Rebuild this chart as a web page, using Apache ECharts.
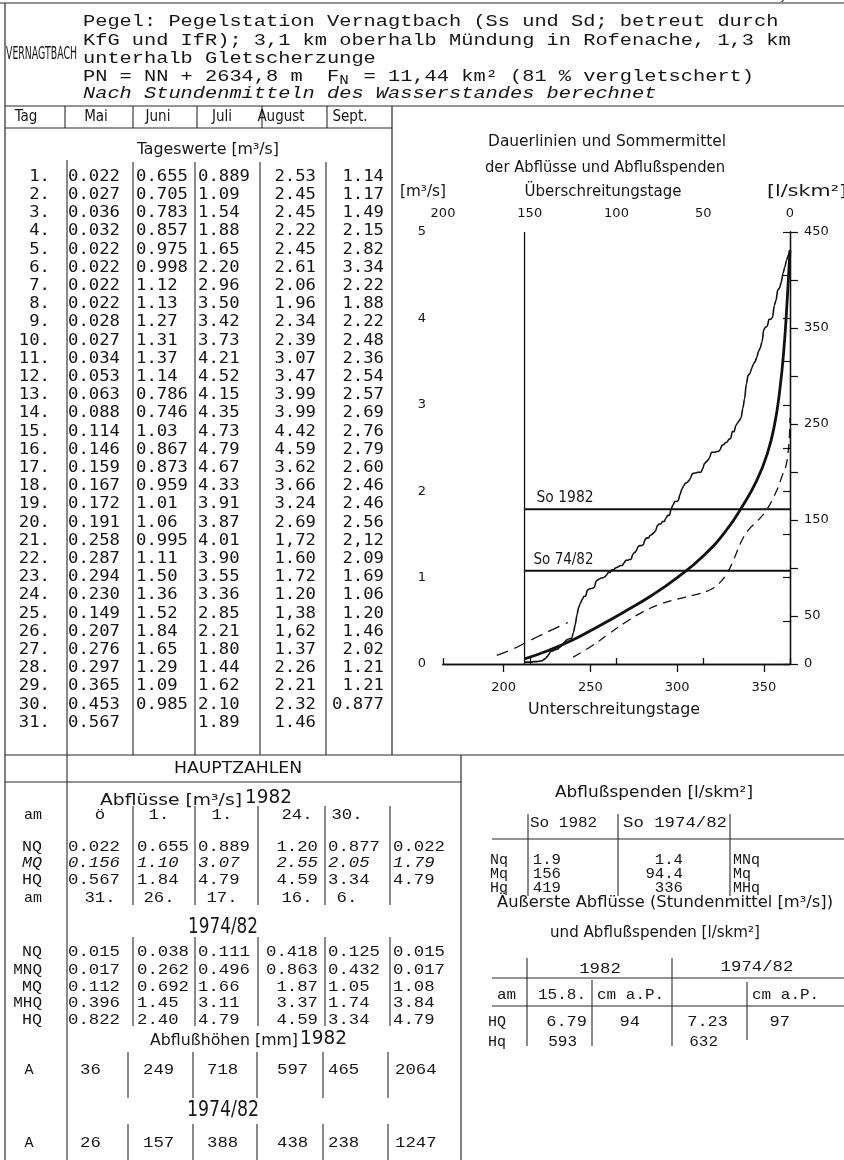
<!DOCTYPE html>
<html><head><meta charset="utf-8">
<script src="https://cdn.jsdelivr.net/npm/echarts@6/dist/echarts.min.js"></script>
<style>html,body{margin:0;padding:0;background:#fff}#c{width:844px;height:1160px}</style>
</head><body><div id="c"></div>
<script>
// ---------------- DATA ----------------
const dayLabels = ['1.','2.','3.','4.','5.','6.','7.','8.','9.','10.','11.','12.','13.','14.','15.','16.','17.','18.','19.','20.','21.','22.','23.','24.','25.','26.','27.','28.','29.','30.','31.'];
const months = ['Tag','Mai','Juni','Juli','August','Sept.'];
const mai = ['0.022','0.027','0.036','0.032','0.022','0.022','0.022','0.022','0.028','0.027','0.034','0.053','0.063','0.088','0.114','0.146','0.159','0.167','0.172','0.191','0.258','0.287','0.294','0.230','0.149','0.207','0.276','0.297','0.365','0.453','0.567'];
const juni = ['0.655','0.705','0.783','0.857','0.975','0.998','1.12','1.13','1.27','1.31','1.37','1.14','0.786','0.746','1.03','0.867','0.873','0.959','1.01','1.06','0.995','1.11','1.50','1.36','1.52','1.84','1.65','1.29','1.09','0.985'];
const juli = ['0.889','1.09','1.54','1.88','1.65','2.20','2.96','3.50','3.42','3.73','4.21','4.52','4.15','4.35','4.73','4.79','4.67','4.33','3.91','3.87','4.01','3.90','3.55','3.36','2.85','2.21','1.80','1.44','1.62','2.10','1.89'];
const august = ['2.53','2.45','2.45','2.22','2.45','2.61','2.06','1.96','2.34','2.39','3.07','3.47','3.99','3.99','4.42','4.59','3.62','3.66','3.24','2.69','1,72','1.60','1.72','1.20','1,38','1,62','1.37','2.26','2.21','2.32','1.46'];
const sept = ['1.14','1.17','1.49','2.15','2.82','3.34','2.22','1.88','2.22','2.48','2.36','2.54','2.57','2.69','2.76','2.79','2.60','2.46','2.46','2.56','2,12','2.09','1.69','1.06','1.20','1.46','2.02','1.21','1.21','0.877'];

// Hauptzahlen
const hzAmNQ1982 = ['ö','1.','1.','24.','30.'];
const hzNQ1982 = ['0.022','0.655','0.889','1.20','0.877','0.022'];
const hzMQ1982 = ['0.156','1.10','3.07','2.55','2.05','1.79'];
const hzHQ1982 = ['0.567','1.84','4.79','4.59','3.34','4.79'];
const hzAmHQ1982 = ['31.','26.','17.','16.','6.'];
const hzNQ7482 = ['0.015','0.038','0.111','0.418','0.125','0.015'];
const hzMNQ7482 = ['0.017','0.262','0.496','0.863','0.432','0.017'];
const hzMQ7482 = ['0.112','0.692','1.66','1.87','1.05','1.08'];
const hzMHQ7482 = ['0.396','1.45','3.11','3.37','1.74','3.84'];
const hzHQ7482 = ['0.822','2.40','4.79','4.59','3.34','4.79'];
const hzA1982 = ['36','249','718','597','465','2064'];
const hzA7482 = ['26','157','388','438','238','1247'];

// Abflussspenden
const spRows = ['Nq','Mq','Hq'];
const spRowsR = ['MNq','Mq','MHq'];
const sp1982 = ['1.9','156','419'];
const sp7482 = ['1.4','94.4','336'];
// Äusserste Abflüsse
const exAm = ['15.8.','cm a.P.','','cm a.P.'];
const exHQ = ['6.79','94','7.23','97'];
const exHq = ['593','','632',''];

// Dauerlinien (Unterschreitungstage, m3/s)
const dauerMittel = [[212,0.06],[225,0.15],[240,0.28],[255,0.44],[270,0.61],[285,0.79],[300,1.00],[315,1.25],[328,1.54],[338,1.84],[346,2.13],[352,2.44],[356,2.76],[359,3.15],[361.5,3.65],[363.5,4.25],[365,4.79]];
const dauerUnten = [[240,0.08],[250,0.20],[260,0.34],[270,0.48],[280,0.60],[290,0.69],[300,0.75],[310,0.80],[318,0.85],[324,0.93],[329,1.06],[333,1.23],[337,1.42],[341,1.55],[346,1.65],[351,1.77],[356,1.95],[360,2.15],[363.5,2.38],[365,2.85]];
const dauerWinter = [[196,0.10],[205,0.17],[212,0.24],[224,0.36],[237,0.48]];
const unterTicks = [200,250,300,350];

// ---------------- HELPERS ----------------
const cv = document.createElement('canvas').getContext('2d');
const INK = '#161616';
const SANS = '"Liberation Sans Narrow", "DejaVu Sans Condensed", "Liberation Sans"';
function T(s, x, y, o) {
  o = o || {};
  const size = o.size || 15;
  const fam = o.fam || SANS;
  const font = (o.it ? 'italic ' : '') + size + 'px ' + fam;
  let sx = 1;
  if ((o.w || o.cw) && s.length) {
    cv.font = font;
    const m = cv.measureText(s).width;
    sx = (o.w || o.cw * s.length) / m;
  }
  const a = o.a || 'left';
  return {type:'text', x:x, y:y, scaleX:sx, silent:true, z:10,
    style:{text:s, font:font, fill:INK, align:a, verticalAlign:'middle', textAlign:a, textVerticalAlign:'middle'}};
}
const TW = '"Liberation Mono"';   // typewriter
const SM = '"DejaVu Sans Mono"';  // table digits
function L(x1,y1,x2,y2,w) {
  return {type:'line', silent:true, z:5, shape:{x1:x1,y1:y1,x2:x2,y2:y2}, style:{stroke:'#2a2a2a', lineWidth:w||1.1}};
}

// ---------------- GRAPHIC (tables) ----------------
const G = [];
G.push(L(0,3,844,3,1.2));
G.push(L(5,3,5,1160,1.2));
G.push(L(5,106,844,106,1.2));
G.push(L(5,128,392,128,1.1));
G.push(L(392,106,392,755,1.2));
G.push(L(5,755,844,755,1.2));
G.push(L(5,782,461,782,1.1));
G.push(L(461,755,461,1160,1.2));
G.push(L(67,160,67,1160,1.1));
G.push(T('Abflußjahr 1982', 842, -5, {size:14, a:'right'}));

// header
G.push(T('VERNAGTBACH', 6, 55, {w:71, size:17}));
const hx = 83, hcw = 12.2;
G.push(T('Pegel: Pegelstation Vernagtbach (Ss und Sd; betreut durch', hx, 22, {fam:TW, size:16, cw:hcw}));
G.push(T('KfG und IfR); 3,1 km oberhalb Mündung in Rofenache, 1,3 km', hx, 41, {fam:TW, size:16, cw:hcw}));
G.push(T('unterhalb Gletscherzunge', hx, 59, {fam:TW, size:16, cw:hcw}));
G.push(T('PN = NN + 2634,8 m  F', hx, 77, {fam:TW, size:16, cw:hcw}));
G.push(T('N', hx + 21*hcw, 81, {fam:TW, size:12, cw:9.5}));
G.push(T(' = 11,44 km² (81 % vergletschert)', hx + 22*hcw, 77, {fam:TW, size:16, cw:hcw}));
G.push(T('Nach Stundenmitteln des Wasserstandes berechnet', hx, 94, {fam:TW, size:16, cw:hcw, it:true}));

// month header row
const hdrSep = [65,133,197,262,327];
hdrSep.forEach(x => G.push(L(x,106,x,128)));
const hdrX = [26,96,158,222,281,350];
months.forEach((m,i) => G.push(T(m, hdrX[i], 117, {a:'center', size:15})));
G.push(T('Tageswerte [m³/s]', 208, 150, {a:'center', size:16, w:142}));

// daily table
const bodySep = [133,195,260,326];
bodySep.forEach(x => G.push(L(x,162,x,755)));
const cols = [mai, juni, juli, august, sept];
const colX = [68,136,198,316,384], colA = ['left','left','left','right','right'];
const rowY0 = 177, rowH = 18.2;
dayLabels.forEach((d,i) => G.push(T(d, 50, rowY0 + i*rowH, {fam:SM, size:15, cw:10.4, a:'right'})));
cols.forEach((c,j) => c.forEach((v,i) => G.push(T(v, colX[j], rowY0 + i*rowH, {fam:SM, size:15, cw:10.4, a:colA[j]}))));

// HAUPTZAHLEN
G.push(T('HAUPTZAHLEN', 238, 769, {a:'center', size:16, w:128}));
G.push(T('Abflüsse [m³/s]', 100, 801, {size:15, w:142}));
G.push(T('1982', 245, 798, {size:20, w:47}));
const hzX = [68,137,198,318,328,393], hzA = ['left','left','left','right','left','left'];
const amX = [100,159,222,297,347];
const hzCw = 10.4;
function hzRow(label, arr, y, it) {
  G.push(T(label, 42, y, {fam:TW, size:15, a:'right', it:it, cw:label.length>2?9.6:10}));
  arr.forEach((v,i) => G.push(T(v, hzX[i], y, {fam:TW, size:15, cw:hzCw, a:hzA[i], it:it})));
}
function amRow(arr, y) {
  G.push(T('am', 42, y, {fam:TW, size:15, a:'right', cw:9}));
  arr.forEach((v,i) => G.push(T(v, amX[i], y, {fam:TW, size:15, cw:hzCw, a:'center'})));
}
amRow(hzAmNQ1982, 815);
hzRow('NQ', hzNQ1982, 847);
hzRow('MQ', hzMQ1982, 863, true);
hzRow('HQ', hzHQ1982, 880);
amRow(hzAmHQ1982, 898);
[133,195,258,325,390].forEach(x => G.push(L(x,806,x,905)));
G.push(T('1974/82', 223, 928, {a:'center', size:21, w:70}));
hzRow('NQ', hzNQ7482, 952);
hzRow('MNQ', hzMNQ7482, 970);
hzRow('MQ', hzMQ7482, 987);
hzRow('MHQ', hzMHQ7482, 1003);
hzRow('HQ', hzHQ7482, 1020);
[133,195,258,325,390].forEach(x => G.push(L(x,937,x,1026)));
G.push(T('Abflußhöhen [mm]', 150, 1041, {size:15, w:148}));
G.push(T('1982', 300, 1039, {size:20, w:47}));
const aX = [80,143,207,277,328,395];
G.push(T('A', 29, 1070, {fam:TW, size:15, a:'center'}));
hzA1982.forEach((v,i) => G.push(T(v, aX[i], 1070, {fam:TW, size:15, cw:hzCw})));
[128,193,257,323,388].forEach(x => G.push(L(x,1052,x,1098)));
G.push(T('1974/82', 223, 1111, {a:'center', size:21, w:72}));
G.push(T('A', 29, 1143, {fam:TW, size:15, a:'center'}));
hzA7482.forEach((v,i) => G.push(T(v, aX[i], 1143, {fam:TW, size:15, cw:hzCw})));
[128,193,257,323,388].forEach(x => G.push(L(x,1124,x,1160)));

// Abflussspenden table
G.push(T('Abflußspenden [l/skm²]', 654, 793, {a:'center', size:15, w:198}));
G.push(T('So 1982', 530, 823, {fam:TW, size:15, cw:9.6}));
G.push(T('So 1974/82', 623, 823, {fam:TW, size:15, cw:10.4}));
G.push(L(492,839,844,839));
[528,618,730].forEach(x => G.push(L(x,814,x,896)));
const spY = [860,874,888];
spRows.forEach((r,i) => {
  G.push(T(r, 490, spY[i], {fam:TW, size:14, cw:9}));
  G.push(T(sp1982[i], 561, spY[i], {fam:TW, size:14, cw:9.4, a:'right'}));
  G.push(T(sp7482[i], 683, spY[i], {fam:TW, size:14, cw:9.4, a:'right'}));
  G.push(T(spRowsR[i], 733, spY[i], {fam:TW, size:14, cw:9}));
});
G.push(T('Äußerste Abflüsse (Stundenmittel [m³/s])', 665, 903, {a:'center', size:15, w:336}));
G.push(T('und Abflußspenden [l/skm²]', 655, 933, {a:'center', size:15, w:210}));
G.push(T('1982', 600, 969, {fam:TW, size:15, cw:10.4, a:'center'}));
G.push(T('1974/82', 757, 967, {fam:TW, size:15, cw:10.4, a:'center'}));
G.push(L(492,978,844,978));
G.push(L(492,1006,844,1006));
G.push(L(527,958,527,1046));
G.push(L(672,958,672,1046));
G.push(L(592,980,592,1046));
G.push(L(747,982,747,1040));
G.push(T('am', 497, 995, {fam:TW, size:15, cw:9.6}));
const exX = [538,597,686,752];
exAm.forEach((v,i) => G.push(T(v, exX[i], 995, {fam:TW, size:15, cw:9.6})));
G.push(T('HQ', 488, 1022, {fam:TW, size:15, cw:9}));
G.push(T('Hq', 488, 1042, {fam:TW, size:15, cw:9}));
const exHX = [587,640,728,790];
exHQ.forEach((v,i) => G.push(T(v, exHX[i], 1022, {fam:TW, size:15, cw:10.2, a:'right'})));
const exqX = [577,0,718,0];
exHq.forEach((v,i) => { if (v) G.push(T(v, exqX[i], 1042, {fam:TW, size:15, cw:9.6, a:'right'})); });

// chart titles
G.push(T('Dauerlinien und Sommermittel', 607, 142, {a:'center', size:15, w:238}));
G.push(T('der Abflüsse und Abflußspenden', 605, 168, {a:'center', size:15, w:240}));
G.push(T('[m³/s]', 423, 192, {a:'center', size:15, w:46}));
G.push(T('Überschreitungstage', 603, 192, {a:'center', size:15, w:157}));
G.push(T('[l/skm²]', 767, 192, {size:15, w:80}));
G.push(T('Unterschreitungstage', 614, 710, {a:'center', size:15, w:172}));

// ---------------- CHART ----------------
const toNum = s => parseFloat(s.replace(',', '.'));
const sorted1982 = [].concat(mai, juni, juli, august, sept).map(toNum).sort((a,b) => a-b);
const nDays = sorted1982.length;           // 153 summer days
const startDay = 365 - nDays;              // 212
const dauer1982 = sorted1982.map((v,i) => [startDay + i*nDays/(nDays-1), v]);
const so1982 = toNum(hzMQ1982[5]);
const so7482 = toNum(hzMQ7482[5]);

const axisFont = {fontFamily:'DejaVu Sans', fontSize:13, color:INK};
const axLine = {show:true, lineStyle:{color:'#111', width:1.3}};
const option = {
  animation:false,
  backgroundColor:'#fff',
  grid:{left:443, top:232, width:347, height:432, containLabel:false},
  xAxis:[
    {type:'value', min:165, max:365, position:'bottom', axisLine:axLine,
     axisTick:{show:true, customValues:unterTicks, length:8, lineStyle:{color:'#111',width:1.3}},
     axisLabel:Object.assign({customValues:unterTicks, margin:17}, axisFont), splitLine:{show:false}},
    {type:'value', min:0, max:200, interval:50, inverse:true, position:'top', axisLine:axLine,
     axisTick:{show:true, length:6, lineStyle:{color:'#111',width:1.3}},
     axisLabel:Object.assign({margin:12}, axisFont), splitLine:{show:false}}
  ],
  yAxis:[
    {type:'value', min:0, max:5, interval:0.5, position:'left', axisLine:axLine,
     axisTick:{show:true, length:7, lineStyle:{color:'#111',width:1.2}},
     axisLabel:Object.assign({margin:17, formatter:v => Number.isInteger(v) ? String(v) : ''}, axisFont), splitLine:{show:false}},
    {type:'value', min:0, max:450, interval:50, position:'right', axisLine:axLine,
     axisTick:{show:true, length:8, lineStyle:{color:'#111',width:1.2}},
     axisLabel:Object.assign({margin:14, formatter:v => (v === 0 || v % 100 === 50) ? String(v) : ''}, axisFont), splitLine:{show:false}}
  ],
  series:[
    {type:'line', data:[[startDay,0],[startDay,5]], symbol:'none', lineStyle:{color:'#111', width:1.3}},
    {type:'line', data:[[startDay,so1982],[365,so1982]], symbol:'none', lineStyle:{color:'#111', width:2}},
    {type:'line', data:[[startDay,so7482],[365,so7482]], symbol:'none', lineStyle:{color:'#111', width:2}},
    {type:'line', data:dauer1982, symbol:'none', smooth:0.3, smoothMonotone:'x', lineStyle:{color:'#111', width:1.6}},
    {type:'line', data:dauerMittel, symbol:'none', smooth:0.5, lineStyle:{color:'#111', width:2.8}},
    {type:'line', data:dauerUnten, symbol:'none', smooth:0.5, lineStyle:{color:'#111', width:1.3, type:[9,6]}},
    {type:'line', data:dauerWinter, symbol:'none', smooth:0.3, lineStyle:{color:'#111', width:1.3, type:[12,7]}}
  ],
  graphic:{elements:G}
};
const chart = echarts.init(document.getElementById('c'), null, {renderer:'canvas'});
chart.setOption(option);
const p1 = chart.convertToPixel({xAxisIndex:0, yAxisIndex:0}, [startDay, so1982]);
const p2 = chart.convertToPixel({xAxisIndex:0, yAxisIndex:0}, [startDay, so7482]);
G.push(T('So 1982', p1[0] + 12, p1[1] - 11, {size:15, w:57}));
G.push(T('So 74/82', p2[0] + 9, p2[1] - 11, {size:15, w:60}));
chart.setOption({graphic:{elements:G}});
</script></body></html>
